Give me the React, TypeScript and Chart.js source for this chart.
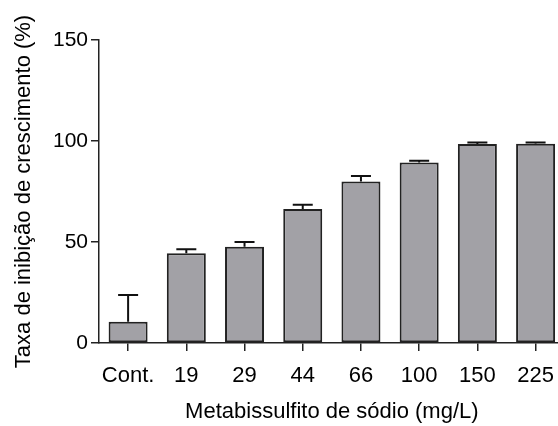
import React, { useEffect, useRef } from "react";
import { Chart, registerables } from "chart.js";

Chart.register(...registerables);

const categories = ["Cont.", "19", "29", "44", "66", "100", "150", "225"];
const values = [10.5, 44.4, 47.7, 66.3, 79.9, 89.3, 98.5, 98.7];
const errors = [13.3, 2.0, 2.3, 2.2, 2.8, 0.9, 0.7, 0.5];
const yTicks = [0, 50, 100, 150];
const yTitle = "Taxa de inibição de crescimento (%)";
const xTitle = "Metabissulfito de sódio (mg/L)";

const FONT = "Liberation Sans, Arial, sans-serif";

const errorBarPlugin = {
  id: "errorBars",
  afterDatasetsDraw(chart: any) {
    const meta = chart.getDatasetMeta(0);
    const yScale = chart.scales.y;
    const ctx = chart.ctx;
    ctx.save();
    ctx.strokeStyle = "#111";
    ctx.lineWidth = 2;
    meta.data.forEach((bar: any, i: number) => {
      const x = bar.x;
      const y0 = yScale.getPixelForValue(values[i]);
      const y1 = yScale.getPixelForValue(values[i] + errors[i]);
      ctx.beginPath();
      ctx.moveTo(x, y0);
      ctx.lineTo(x, y1);
      ctx.moveTo(x - 10, y1);
      ctx.lineTo(x + 10, y1);
      ctx.stroke();
    });
    ctx.restore();
  },
};

export default function App() {
  const ref = useRef<HTMLCanvasElement>(null);
  useEffect(() => {
    if (!ref.current) return;
    const chart = new Chart(ref.current, {
      type: "bar",
      data: {
        labels: categories,
        datasets: [
          {
            data: values,
            backgroundColor: "#a2a1a6",
            borderColor: "#222",
            borderWidth: 2,
            borderSkipped: false,
            barPercentage: 0.67,
            categoryPercentage: 1,
          },
        ],
      },
      options: {
        responsive: false,
        animation: false,
        layout: { padding: { top: 40, left: 0, right: 1, bottom: 0 } },
        plugins: { legend: { display: false }, tooltip: { enabled: false } },
        scales: {
          x: {
            grid: {
              offset: false,
              drawOnChartArea: false,
              drawTicks: true,
              tickLength: 8,
              color: "#222",
              lineWidth: 1.5,
            },
            border: { display: true, color: "#222", width: 1.5 },
            ticks: {
              color: "#000",
              padding: 12,
              font: { family: FONT, size: 22 },
              maxRotation: 0,
              autoSkip: false,
            },
            title: {
              display: true,
              text: xTitle,
              color: "#000",
              font: { family: FONT, size: 22 },
              padding: { top: 0, bottom: 1 },
            },
            afterFit(scale: any) {
              scale.height = 83;
            },
          },
          y: {
            min: 0,
            max: 150,
            afterBuildTicks(scale: any) {
              scale.ticks = yTicks.map((v) => ({ value: v }));
            },
            grid: {
              drawOnChartArea: false,
              drawTicks: true,
              tickLength: 8,
              color: "#222",
              lineWidth: 1.5,
            },
            border: { display: true, color: "#222", width: 1.5 },
            ticks: {
              color: "#000",
              padding: 3,
              font: { family: FONT, size: 21 },
            },
            title: {
              display: true,
              text: yTitle,
              color: "#000",
              font: { family: FONT, size: 22 },
              padding: { top: 11, bottom: 0 },
            },
            afterFit(scale: any) {
              scale.width = 99;
            },
          },
        },
      },
      plugins: [errorBarPlugin],
    });
    return () => chart.destroy();
  }, []);
  return (
    <div
      style={{
        position: "fixed",
        left: 0,
        top: 0,
        width: 558,
        height: 426,
        overflow: "hidden",
        background: "#fff",
      }}
    >
      <canvas ref={ref} width={566} height={426} style={{ display: "block" }} />
    </div>
  );
}
